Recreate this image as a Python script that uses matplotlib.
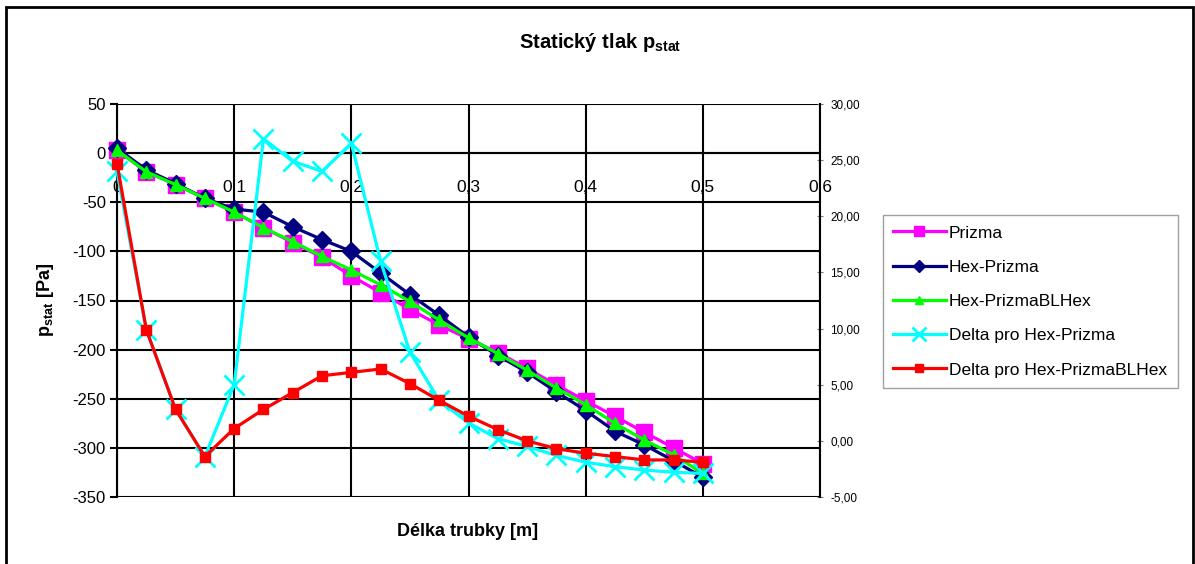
import numpy as np
import matplotlib
matplotlib.use("Agg")
import matplotlib.pyplot as plt
from matplotlib.patches import Rectangle
from matplotlib.ticker import FuncFormatter, MultipleLocator

plt.rcParams['font.family'] = ['Liberation Sans', 'DejaVu Sans']
plt.rcParams['axes.unicode_minus'] = False
plt.rcParams['mathtext.fontset'] = 'custom'
plt.rcParams['mathtext.rm'] = 'Liberation Sans'
plt.rcParams['mathtext.bf'] = 'Liberation Sans:bold'

#data
x = [0, 0.025, 0.05, 0.075, 0.1, 0.125, 0.15, 0.175, 0.2, 0.225, 0.25,
     0.275, 0.3, 0.325, 0.35, 0.375, 0.4, 0.425, 0.45, 0.475, 0.5]
prizma = [3, -19, -32, -46, -60, -76, -91, -106, -125, -142, -159,
          -175, -189, -203, -219, -236, -252, -268, -284, -300, -316]
hex_prizma = [5, -17, -31, -46, -57, -60, -75, -88, -100, -122, -144,
              -165, -187, -206, -223, -243, -262, -283, -297, -313, -330]
hex_bl = [3, -19, -32, -46, -60, -76, -90, -105, -119, -134, -151,
          -170, -188, -204, -221, -239, -256, -275, -292, -307, -326]
delta_hex = [24.0, 9.9, 2.8, -1.4, 5.0, 26.9, 24.9, 24.0, 26.5, 16.0, 7.9,
             3.6, 1.6, 0.2, -0.5, -1.3, -1.9, -2.3, -2.6, -2.8, -2.9]
delta_bl = [24.7, 9.9, 2.8, -1.4, 1.1, 2.8, 4.3, 5.8, 6.1, 6.4, 5.1,
            3.6, 2.2, 1.0, 0.0, -0.7, -1.1, -1.4, -1.7, -1.7, -1.9]
labels = ['Prizma', 'Hex-Prizma', 'Hex-PrizmaBLHex',
          'Delta pro Hex-Prizma', 'Delta pro Hex-PrizmaBLHex']

W, H = 1195, 564
fig = plt.figure(figsize=(W / 100, H / 100), dpi=100)
ax = fig.add_axes([117 / W, 1 - 497 / H, (820 - 117) / W, (497 - 104) / H])
ax2 = ax.twinx()

lw = 2.3
h1, = ax.plot(x, prizma, color='#FF00FF', lw=lw, marker='s', ms=11, clip_on=False, zorder=3)
h2, = ax.plot(x, hex_prizma, color='#000080', lw=lw, marker='D', ms=9, clip_on=False, zorder=4)
h3, = ax.plot(x, hex_bl, color='#00FF00', lw=lw, marker='^', ms=9, clip_on=False, zorder=5)
h4, = ax2.plot(x, delta_hex, color='#00FFFF', lw=lw, marker='x', ms=14, mew=2, clip_on=False, zorder=3)
h5, = ax2.plot(x, delta_bl, color='#FF0000', lw=lw, marker='s', ms=7.5, clip_on=False, zorder=4)

#left axis
ax.set_xlim(0, 0.6)
ax.set_ylim(-350, 50)
ax.xaxis.set_major_locator(MultipleLocator(0.1))
ax.yaxis.set_major_locator(MultipleLocator(50))
ax.xaxis.set_major_formatter(FuncFormatter(lambda v, p: ('%g' % round(v, 2)).replace('.', ',')))
ax.grid(True, color='black', lw=1.5)
ax.spines['top'].set_visible(False)
ax.spines['right'].set_visible(False)
ax.spines['bottom'].set_position(('data', 0))
ax.spines['bottom'].set_linewidth(1.5)
ax.spines['left'].set_linewidth(1.5)
ax.tick_params(axis='x', length=0, pad=19, labelsize=12.5)
ax.tick_params(axis='y', direction='out', length=5, width=1.5, labelsize=12, pad=3)

#right axis
ax2.set_ylim(-5, 30)
ax2.yaxis.set_major_locator(MultipleLocator(5))
ax2.yaxis.set_major_formatter(FuncFormatter(lambda v, p: ('%.2f' % v).replace('.', ',')))
ax2.tick_params(axis='y', direction='inout', length=5, width=0.8, color='#777777', labelsize=8.5, pad=5)
for s in ['top', 'bottom', 'left']:
    ax2.spines[s].set_visible(False)
ax2.spines['right'].set_linewidth(1.5)

fig.text(600 / W, 1 - 42 / H, r'Statický tlak $\mathbf{p_{stat}}$', ha='center', va='center',
         fontsize=14.5, fontweight='bold')
fig.text(468 / W, 1 - 531 / H, 'Délka trubky [m]', ha='center', va='center',
         fontsize=13, fontweight='bold')
fig.text(45 / W, 1 - 300 / H, r'$\mathbf{p_{stat}}$ [Pa]', ha='center', va='center',
         rotation=90, fontsize=13, fontweight='bold')

leg = fig.legend([h1, h2, h3, h4, h5], labels, loc='upper left',
                 bbox_to_anchor=(883 / W, 1 - 215 / H), borderaxespad=0, fontsize=12.5,
                 frameon=True, fancybox=False, edgecolor='#888888', handlelength=3.0,
                 handletextpad=0.2, labelspacing=1.1, borderpad=0.6, markerscale=0.7)
leg.get_frame().set_linewidth(1.0)

fig.patches.append(Rectangle((6 / W, -0.05), (1193 - 6) / W, 1.05 - 7 / H,
                             transform=fig.transFigure, fill=False,
                             edgecolor='black', lw=2, zorder=0))

fig.savefig('out.png', dpi=100)
